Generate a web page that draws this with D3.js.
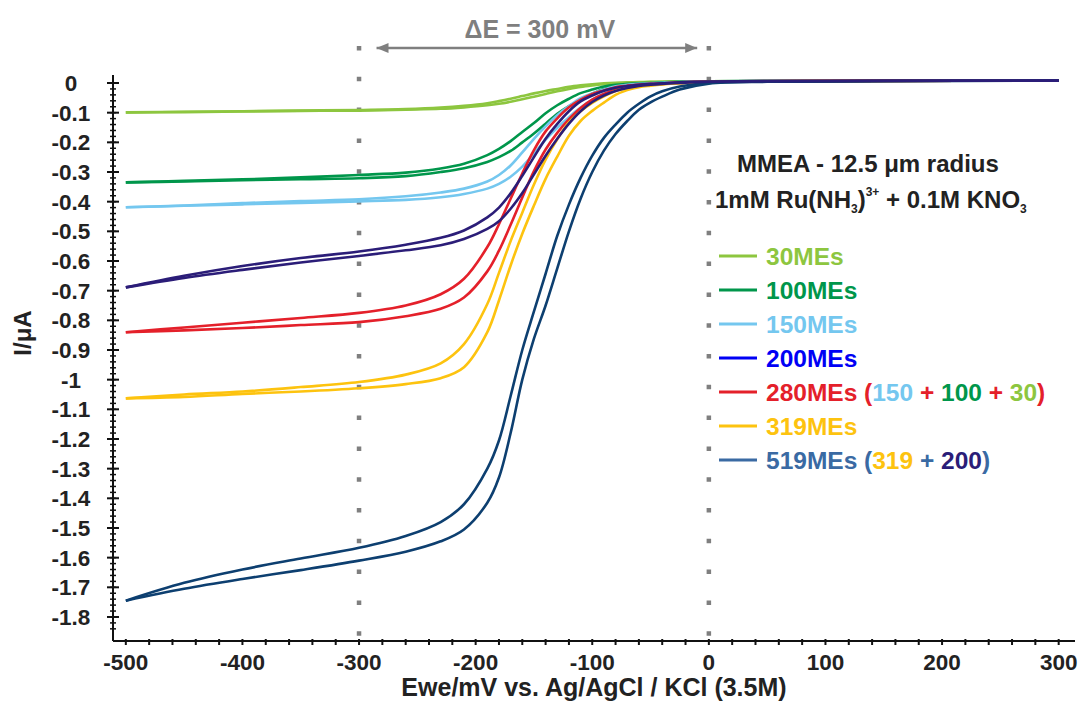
<!DOCTYPE html>
<html>
<head>
<meta charset="utf-8">
<script src="https://cdnjs.cloudflare.com/ajax/libs/d3/7.8.5/d3.min.js"></script>
<style>
  body { margin: 0; background: #fff; }
  svg text { font-family: 'Liberation Sans', Arial, Helvetica, sans-serif; font-weight: bold; }
</style>
</head>
<body>
<svg id="chart" width="1080" height="702"></svg>
<script>
// potential grid (mV) shared by every branch
const potentials = [-500, -450, -400, -350, -300, -260, -230, -210, -190, -180, -170, -160, -150, -140, -130,
  -120, -110, -100, -90, -80, -70, -60, -50, -40, -25, 0, 50, 150, 300];

// current (uA), two branches per voltammogram: "a" = upper/left, "b" = lower/right
const mes30a = [-0.099, -0.097, -0.095, -0.093, -0.091, -0.088, -0.083, -0.077, -0.068, -0.061, -0.053, -0.044, -0.035, -0.027, -0.020,
  -0.013, -0.008, -0.004, -0.001, 0.001, 0.002, 0.003, 0.004, 0.004, 0.005, 0.006, 0.007, 0.008, 0.008];
const mes30b = [-0.099, -0.098, -0.096, -0.094, -0.093, -0.090, -0.087, -0.082, -0.075, -0.070, -0.063, -0.055, -0.046, -0.037, -0.028,
  -0.020, -0.013, -0.008, -0.004, -0.001, 0.001, 0.002, 0.003, 0.004, 0.005, 0.006, 0.007, 0.008, 0.008];
const mes100a = [-0.335, -0.330, -0.325, -0.318, -0.310, -0.302, -0.288, -0.272, -0.243, -0.222, -0.196, -0.165, -0.135, -0.102, -0.075,
  -0.053, -0.034, -0.022, -0.012, -0.006, -0.003, -0.001, 0.000, 0.002, 0.004, 0.006, 0.007, 0.008, 0.008];
const mes100b = [-0.335, -0.332, -0.328, -0.324, -0.321, -0.314, -0.300, -0.287, -0.266, -0.250, -0.229, -0.200, -0.170, -0.137, -0.104,
  -0.078, -0.056, -0.036, -0.020, -0.011, -0.006, -0.003, -0.001, 0.001, 0.003, 0.005, 0.007, 0.008, 0.008];
const mes150a = [-0.419, -0.413, -0.405, -0.398, -0.392, -0.382, -0.369, -0.356, -0.332, -0.310, -0.278, -0.234, -0.188, -0.146, -0.109,
  -0.078, -0.051, -0.035, -0.022, -0.011, -0.006, -0.003, -0.001, 0.001, 0.003, 0.006, 0.007, 0.008, 0.008];
const mes150b = [-0.419, -0.414, -0.409, -0.404, -0.399, -0.394, -0.385, -0.374, -0.356, -0.340, -0.316, -0.282, -0.238, -0.191, -0.151,
  -0.115, -0.083, -0.056, -0.036, -0.020, -0.012, -0.007, -0.004, -0.001, 0.002, 0.005, 0.007, 0.008, 0.008];
const mes200a = [-0.689, -0.650, -0.617, -0.590, -0.568, -0.545, -0.522, -0.497, -0.453, -0.420, -0.372, -0.313, -0.250, -0.188, -0.138,
  -0.095, -0.062, -0.042, -0.026, -0.016, -0.010, -0.006, -0.003, -0.001, 0.002, 0.005, 0.007, 0.008, 0.008];
const mes200b = [-0.689, -0.657, -0.630, -0.605, -0.583, -0.564, -0.547, -0.526, -0.492, -0.466, -0.424, -0.371, -0.308, -0.245, -0.188,
  -0.137, -0.095, -0.064, -0.042, -0.027, -0.017, -0.010, -0.006, -0.003, 0.000, 0.004, 0.006, 0.007, 0.008];
const mes280a = [-0.840, -0.824, -0.808, -0.792, -0.775, -0.750, -0.712, -0.660, -0.553, -0.476, -0.390, -0.305, -0.226, -0.163, -0.119,
  -0.082, -0.056, -0.037, -0.025, -0.014, -0.009, -0.005, -0.003, -0.001, 0.002, 0.005, 0.007, 0.008, 0.008];
const mes280b = [-0.840, -0.834, -0.826, -0.816, -0.806, -0.786, -0.761, -0.723, -0.635, -0.565, -0.478, -0.386, -0.297, -0.224, -0.168,
  -0.122, -0.084, -0.056, -0.037, -0.023, -0.014, -0.009, -0.005, -0.003, 0.000, 0.004, 0.006, 0.007, 0.008];
const mes319a = [-1.063, -1.050, -1.040, -1.025, -1.008, -0.983, -0.945, -0.880, -0.745, -0.640, -0.533, -0.437, -0.342, -0.258, -0.190,
  -0.133, -0.095, -0.067, -0.045, -0.027, -0.017, -0.010, -0.006, -0.003, 0.000, 0.004, 0.006, 0.007, 0.008];
const mes319b = [-1.063, -1.058, -1.048, -1.040, -1.029, -1.015, -0.995, -0.958, -0.840, -0.733, -0.615, -0.508, -0.413, -0.323, -0.248,
  -0.178, -0.128, -0.094, -0.066, -0.040, -0.024, -0.014, -0.009, -0.005, -0.001, 0.003, 0.006, 0.007, 0.008];
const mes519a = [-1.745, -1.685, -1.640, -1.603, -1.567, -1.527, -1.480, -1.420, -1.300, -1.205, -1.055, -0.900, -0.770, -0.643, -0.515,
  -0.410, -0.320, -0.245, -0.185, -0.140, -0.100, -0.070, -0.045, -0.028, -0.012, 0.000, 0.005, 0.007, 0.008];
const mes519b = [-1.745, -1.705, -1.672, -1.642, -1.610, -1.580, -1.545, -1.505, -1.415, -1.330, -1.180, -1.000, -0.862, -0.750, -0.625,
  -0.500, -0.390, -0.300, -0.228, -0.172, -0.128, -0.090, -0.065, -0.046, -0.022, -0.002, 0.004, 0.006, 0.008];

const seriesNames = ['30MEs', '100MEs', '150MEs', '200MEs', '280MEs', '319MEs', '519MEs'];
const currentTicks = [0, -0.1, -0.2, -0.3, -0.4, -0.5, -0.6, -0.7, -0.8, -0.9, -1, -1.1, -1.2, -1.3, -1.4, -1.5, -1.6, -1.7, -1.8];
const potentialTicks = [-500, -400, -300, -200, -100, 0, 100, 200, 300];
const markerPotentials = [-300, 0];

const colors = {
  '30MEs': '#8dc63f', '100MEs': '#00964b', '150MEs': '#74c7ef', '200MEs': '#2b1d78',
  '280MEs': '#e4202a', '319MEs': '#fdc30f', '519MEs': '#0d3f70'
};
const legendColors = { ...colors, '200MEs': '#0000f5', '519MEs': '#3a6aa3' };

const branches = {
  '30MEs': [mes30a, mes30b], '100MEs': [mes100a, mes100b], '150MEs': [mes150a, mes150b],
  '200MEs': [mes200a, mes200b], '280MEs': [mes280a, mes280b], '319MEs': [mes319a, mes319b],
  '519MEs': [mes519a, mes519b]
};

const svg = d3.select('#chart');
const x = d3.scaleLinear().domain([-511, 314]).range([113, 1075]);
const y = d3.scaleLinear().domain([-1.881, 0.027]).range([641, 75]);

// dotted guides at -300 and 0 mV
svg.selectAll('line.guide')
  .data(markerPotentials)
  .enter().append('line')
    .attr('class', 'guide')
    .attr('x1', d => x(d)).attr('x2', d => x(d))
    .attr('y1', 46).attr('y2', 641)
    .attr('stroke', '#7f7f7f')
    .attr('stroke-width', 4.5)
    .attr('stroke-dasharray', '4.5,26.3');

// curves, navy drawn last so it sits on top like the original
const line = d3.line()
  .x((d, i) => x(potentials[i]))
  .y(d => y(d))
  .curve(d3.curveCatmullRom.alpha(0.5));

const drawOrder = ['30MEs', '100MEs', '150MEs', '280MEs', '319MEs', '519MEs', '200MEs'];
drawOrder.forEach(name => {
  svg.selectAll(null)
    .data(branches[name])
    .enter().append('path')
      .attr('d', line)
      .attr('fill', 'none')
      .attr('stroke', colors[name])
      .attr('stroke-width', 2.6);
});

// axes
const yAxis = svg.append('g').attr('transform', `translate(${x(-511)},0)`);
yAxis.append('line').attr('y1', y(0.027)).attr('y2', y(-1.881)).attr('stroke', '#111').attr('stroke-width', 2);
yAxis.selectAll('line.minor')
  .data(d3.range(1, 94).map(k => -k / 50 + 0.02))
  .enter().append('line')
    .attr('y1', d => y(d)).attr('y2', d => y(d))
    .attr('x1', -3).attr('x2', 3)
    .attr('stroke', '#111').attr('stroke-width', 1.5);
yAxis.selectAll('line.major')
  .data(currentTicks)
  .enter().append('line')
    .attr('y1', d => y(d)).attr('y2', d => y(d))
    .attr('x1', -6).attr('x2', 6)
    .attr('stroke', '#111').attr('stroke-width', 2);
yAxis.selectAll('text')
  .data(currentTicks)
  .enter().append('text')
    .attr('x', -42)
    .attr('y', d => y(d) + 8)
    .attr('text-anchor', 'middle')
    .attr('font-size', 22.5)
    .attr('fill', '#222')
    .text(d => String(d));

const xAxis = svg.append('g').attr('transform', `translate(0,${y(-1.881)})`);
xAxis.append('line').attr('x1', x(-511)).attr('x2', x(314)).attr('stroke', '#111').attr('stroke-width', 2);
xAxis.selectAll('line.tick')
  .data(d3.range(-500, 301, 20))
  .enter().append('line')
    .attr('x1', d => x(d)).attr('x2', d => x(d))
    .attr('y1', -2).attr('y2', 4)
    .attr('stroke', '#111').attr('stroke-width', 2);
xAxis.selectAll('text')
  .data(potentialTicks)
  .enter().append('text')
    .attr('x', d => x(d))
    .attr('y', 29)
    .attr('text-anchor', 'middle')
    .attr('font-size', 22.5)
    .attr('fill', '#222')
    .text(d => String(d));

svg.append('text')
  .attr('x', 594).attr('y', 696)
  .attr('text-anchor', 'middle')
  .attr('font-size', 25)
  .attr('fill', '#222')
  .text('Ewe/mV vs. Ag/AgCl / KCl (3.5M)');

svg.append('text')
  .attr('transform', 'translate(31,333) rotate(-90)')
  .attr('text-anchor', 'middle')
  .attr('font-size', 24)
  .attr('fill', '#222')
  .text('I/μA');

// ΔE arrow
const defs = svg.append('defs');
['start', 'end'].forEach(k => {
  defs.append('marker')
    .attr('id', 'arrow-' + k)
    .attr('viewBox', '0 0 12 10')
    .attr('refX', k === 'end' ? 12 : 0).attr('refY', 5)
    .attr('markerWidth', 12).attr('markerHeight', 10)
    .attr('markerUnits', 'userSpaceOnUse')
    .attr('orient', 'auto')
    .append('path')
      .attr('d', k === 'end' ? 'M0,0 L12,5 L0,10 Z' : 'M12,0 L0,5 L12,10 Z')
      .attr('fill', '#7f7f7f');
});
svg.append('line')
  .attr('x1', x(-285)).attr('x2', x(-10))
  .attr('y1', 48).attr('y2', 48)
  .attr('stroke', '#7f7f7f').attr('stroke-width', 2.5)
  .attr('marker-start', 'url(#arrow-start)')
  .attr('marker-end', 'url(#arrow-end)');
svg.append('text')
  .attr('x', x(-145)).attr('y', 38)
  .attr('text-anchor', 'middle')
  .attr('font-size', 25)
  .attr('fill', '#7f7f7f')
  .text('ΔE = 300 mV');

// experiment notes
svg.append('text')
  .attr('x', 737).attr('y', 172)
  .attr('font-size', 24).attr('fill', '#222')
  .text('MMEA - 12.5 μm radius');
const note = svg.append('text')
  .attr('x', 715).attr('y', 208)
  .attr('font-size', 24).attr('fill', '#222');
note.append('tspan').text('1mM Ru(NH');
note.append('tspan').attr('font-size', 12).attr('dy', 5).text('3');
note.append('tspan').attr('dy', -5).text(')');
note.append('tspan').attr('font-size', 12).attr('dy', -12).text('3+');
note.append('tspan').attr('dy', 12).text(' + 0.1M KNO');
note.append('tspan').attr('font-size', 12).attr('dy', 5).text('3');

// legend
const legendY = d3.scalePoint().domain(seriesNames).range([256, 460]);
const legend = svg.append('g');
legend.selectAll('line')
  .data(seriesNames)
  .enter().append('line')
    .attr('x1', 719).attr('x2', 757)
    .attr('y1', d => legendY(d)).attr('y2', d => legendY(d))
    .attr('stroke', d => legendColors[d])
    .attr('stroke-width', 3);

const legendParts = {
  '280MEs': [['280MEs (', '280MEs'], ['150', '150MEs'], [' + ', '280MEs'], ['100', '100MEs'], [' + ', '280MEs'], ['30', '30MEs'], [')', '280MEs']],
  '519MEs': [['519MEs (', '519MEs'], ['319', '319MEs'], [' + ', '519MEs'], ['200', '200MEs'], [')', '519MEs']]
};
seriesNames.forEach(name => {
  const t = legend.append('text')
    .attr('x', 766).attr('y', legendY(name) + 8.5)
    .attr('font-size', 24.5)
    .style('white-space', 'pre');
  const parts = legendParts[name] || [[name, name]];
  parts.forEach(([s, c]) => {
    t.append('tspan')
      .attr('fill', c === '200MEs' && name === '519MEs' ? colors['200MEs'] : legendColors[c])
      .text(s);
  });
});
</script>
</body>
</html>
